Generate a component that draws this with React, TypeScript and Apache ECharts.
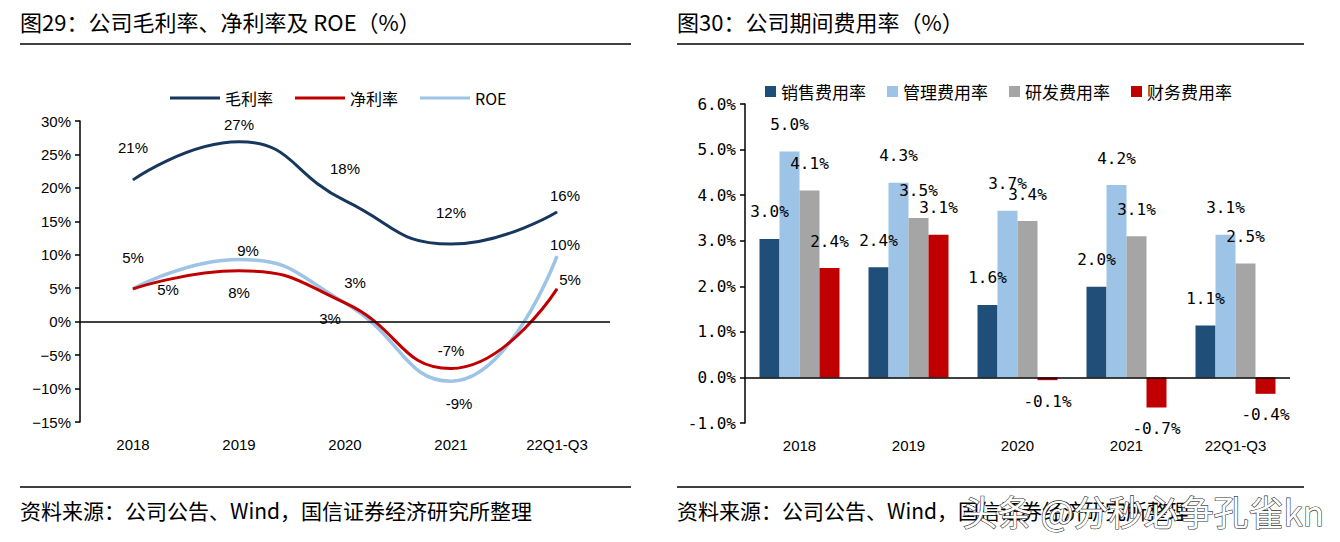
import React, { useEffect, useRef } from "react";
import * as echarts from "echarts";

const categories = ["2018", "2019", "2020", "2021", "22Q1-Q3"];
const grossMargin = [21.2, 26.9, 18.1, 11.6, 16.4];
const netMargin = [4.9, 7.6, 2.8, -7.0, 4.9];
const roe = [4.9, 9.3, 2.8, -8.9, 9.8];

const sellingRate = [3.04, 2.42, 1.59, 1.99, 1.14];
const adminRate = [4.96, 4.27, 3.66, 4.22, 3.13];
const rdRate = [4.1, 3.5, 3.43, 3.1, 2.5];
const financeRate = [2.4, 3.13, -0.06, -0.66, -0.36];

const leftTitle = "图29：公司毛利率、净利率及 ROE（%）";
const rightTitle = "图30：公司期间费用率（%）";
const sourceText = "资料来源：公司公告、Wind，国信证券经济研究所整理";
const watermark = "头条 @分秒必争孔雀kn";

// label offsets (style only)
const grossOffsets = [[0, -32], [0, -17], [0, -32], [0, -32], [8, -16]];
const netOffsets = [[35, 1], [0, 22], [-15, 16], [0, -18], [13, -9]];
const roeOffsets = [[0, -31], [9, -9], [10, -20], [8, 22], [8, -12]];

const CJK = "'Noto Sans CJK SC', sans-serif";
const NARROW = "'Liberation Sans Narrow', 'Liberation Sans', sans-serif";
const MONO = "'DejaVu Sans Mono', 'Liberation Mono', monospace";

const NAVY_L = "#17375E";
const RED = "#C00000";
const LBLUE = "#9DC3E6";
const NAVY_R = "#1F4E79";
const GRAY = "#A5A5A5";

function lineData(values: number[], offsets: number[][]) {
  return values.map((v, i) => ({
    value: v,
    label: { offset: offsets[i] },
  }));
}

function barData(values: number[]) {
  return values.map((v) => (v < 0 ? { value: v, label: { distance: 13 } } : v));
}

export default function App() {
  const ref = useRef<HTMLDivElement>(null);
  useEffect(() => {
    if (!ref.current) return;
    const chart = echarts.init(ref.current, null, { renderer: "svg" });
    const pct0 = (p: any) => `${Math.round(p.value).toFixed(0)}%`;
    const pct1 = (p: any) => `${Number(p.value).toFixed(1)}%`;
    const lineLabel = {
      show: true,
      position: "inside",
      formatter: pct0,
      fontFamily: NARROW,
      fontSize: 15,
      color: "#000",
    };
    const barLabel = {
      show: true,
      position: "outside",
      distance: 19,
      formatter: pct1,
      fontFamily: MONO,
      fontSize: 16,
      color: "#000",
    };
    const line = (name: string, values: number[], offsets: number[][], color: string, width: number, z: number) => ({
      name,
      type: "line",
      xAxisIndex: 0,
      yAxisIndex: 0,
      smooth: 0.5,
      symbol: "circle",
      symbolSize: 1,
      showSymbol: true,
      z,
      itemStyle: { color },
      lineStyle: { color, width },
      label: lineLabel,
      data: lineData(values, offsets),
    });
    const bar = (name: string, values: number[], color: string) => ({
      name,
      type: "bar",
      xAxisIndex: 1,
      yAxisIndex: 1,
      barWidth: 20,
      barGap: "0%",
      itemStyle: { color },
      label: barLabel,
      data: barData(values),
    });
    const zeroLine = {
      silent: true,
      symbol: ["none", "none"],
      label: { show: false },
      lineStyle: { color: "#000", width: 1.5, type: "solid" },
      data: [{ yAxis: 0 }],
    };

    const grossS: any = line("毛利率", grossMargin, grossOffsets, NAVY_L, 3, 3);
    grossS.markLine = zeroLine;
    const netS = line("净利率", netMargin, netOffsets, RED, 3, 4);
    const roeS = line("ROE", roe, roeOffsets, LBLUE, 3.5, 2);

    const sellS: any = bar("销售费用率", sellingRate, NAVY_R);
    sellS.markLine = zeroLine;

    chart.setOption({
      animation: false,
      backgroundColor: "#fff",
      legend: [
        {
          left: 165,
          top: 85,
          itemWidth: 50,
          itemHeight: 3,
          itemGap: 22,
          icon: "rect",
          textStyle: { fontFamily: CJK, fontSize: 16, color: "#000" },
          data: ["毛利率", "净利率", "ROE"],
        },
        {
          left: 760,
          top: 78,
          itemWidth: 11,
          itemHeight: 11,
          itemGap: 21,
          icon: "rect",
          textStyle: { fontFamily: CJK, fontSize: 17, color: "#000" },
          data: ["销售费用率", "管理费用率", "研发费用率", "财务费用率"],
        },
      ],
      grid: [
        { left: 80, right: 730, top: 121, bottom: 120 },
        { left: 745, right: 50, top: 104, bottom: 119 },
      ],
      xAxis: [
        {
          type: "category",
          gridIndex: 0,
          data: categories,
          boundaryGap: true,
          axisLine: { show: false, onZero: false },
          axisTick: { show: false },
          axisLabel: { margin: 15, fontFamily: NARROW, fontSize: 15, color: "#000" },
        },
        {
          type: "category",
          gridIndex: 1,
          data: categories,
          boundaryGap: true,
          axisLine: { show: false, onZero: false },
          axisTick: { show: false },
          axisLabel: { margin: 15, fontFamily: NARROW, fontSize: 15, color: "#000" },
        },
      ],
      yAxis: [
        {
          type: "value",
          gridIndex: 0,
          min: -15,
          max: 30,
          interval: 5,
          splitLine: { show: false },
          axisLine: { show: true, lineStyle: { color: "#000", width: 1.5 } },
          axisTick: { show: true, length: 5, lineStyle: { color: "#000", width: 1.5 } },
          axisLabel: {
            margin: 9,
            fontFamily: NARROW,
            fontSize: 15,
            color: "#000",
            formatter: (v: number) => `${v}%`.replace("-", "−"),
          },
        },
        {
          type: "value",
          gridIndex: 1,
          min: -1,
          max: 6,
          interval: 1,
          splitLine: { show: false },
          axisLine: { show: true, lineStyle: { color: "#000", width: 1.5 } },
          axisTick: { show: true, length: 5, lineStyle: { color: "#000", width: 1.5 } },
          axisLabel: {
            margin: 9,
            fontFamily: MONO,
            fontSize: 16,
            color: "#000",
            formatter: (v: number) => `${v.toFixed(1)}%`,
          },
        },
      ],
      series: [
        grossS,
        netS,
        roeS,
        sellS,
        bar("管理费用率", adminRate, LBLUE),
        bar("研发费用率", rdRate, GRAY),
        bar("财务费用率", financeRate, RED),
      ],
      graphic: [
        {
          type: "text",
          left: 20,
          top: 10,
          style: { text: leftTitle, font: `22px ${CJK}`, fill: "#000" },
        },
        {
          type: "text",
          left: 677,
          top: 10,
          style: { text: rightTitle, font: `22px ${CJK}`, fill: "#000" },
        },
        {
          type: "line",
          shape: { x1: 20, y1: 44, x2: 631, y2: 44 },
          style: { stroke: "#000", lineWidth: 1.5 },
        },
        {
          type: "line",
          shape: { x1: 677, y1: 44, x2: 1304, y2: 44 },
          style: { stroke: "#000", lineWidth: 1.5 },
        },
        {
          type: "line",
          shape: { x1: 20, y1: 487, x2: 631, y2: 487 },
          style: { stroke: "#000", lineWidth: 1.5 },
        },
        {
          type: "line",
          shape: { x1: 677, y1: 487, x2: 1304, y2: 487 },
          style: { stroke: "#000", lineWidth: 1.5 },
        },
        {
          type: "text",
          left: 20,
          top: 499,
          style: { text: sourceText, font: `21px ${CJK}`, fill: "#000" },
        },
        {
          type: "text",
          left: 677,
          top: 499,
          style: { text: sourceText, font: `21px ${CJK}`, fill: "#000" },
        },
        {
          type: "text",
          left: 962,
          top: 492,
          z: 100,
          style: {
            text: watermark,
            font: `35px ${CJK}`,
            fill: "#ffffff",
            stroke: "#333333",
            lineWidth: 1.2,
          },
        },
      ],
    });
    return () => chart.dispose();
  }, []);
  return (
    <div
      ref={ref}
      style={{ position: "fixed", left: 0, top: 0, width: 1340, height: 542 }}
    />
  );
}
